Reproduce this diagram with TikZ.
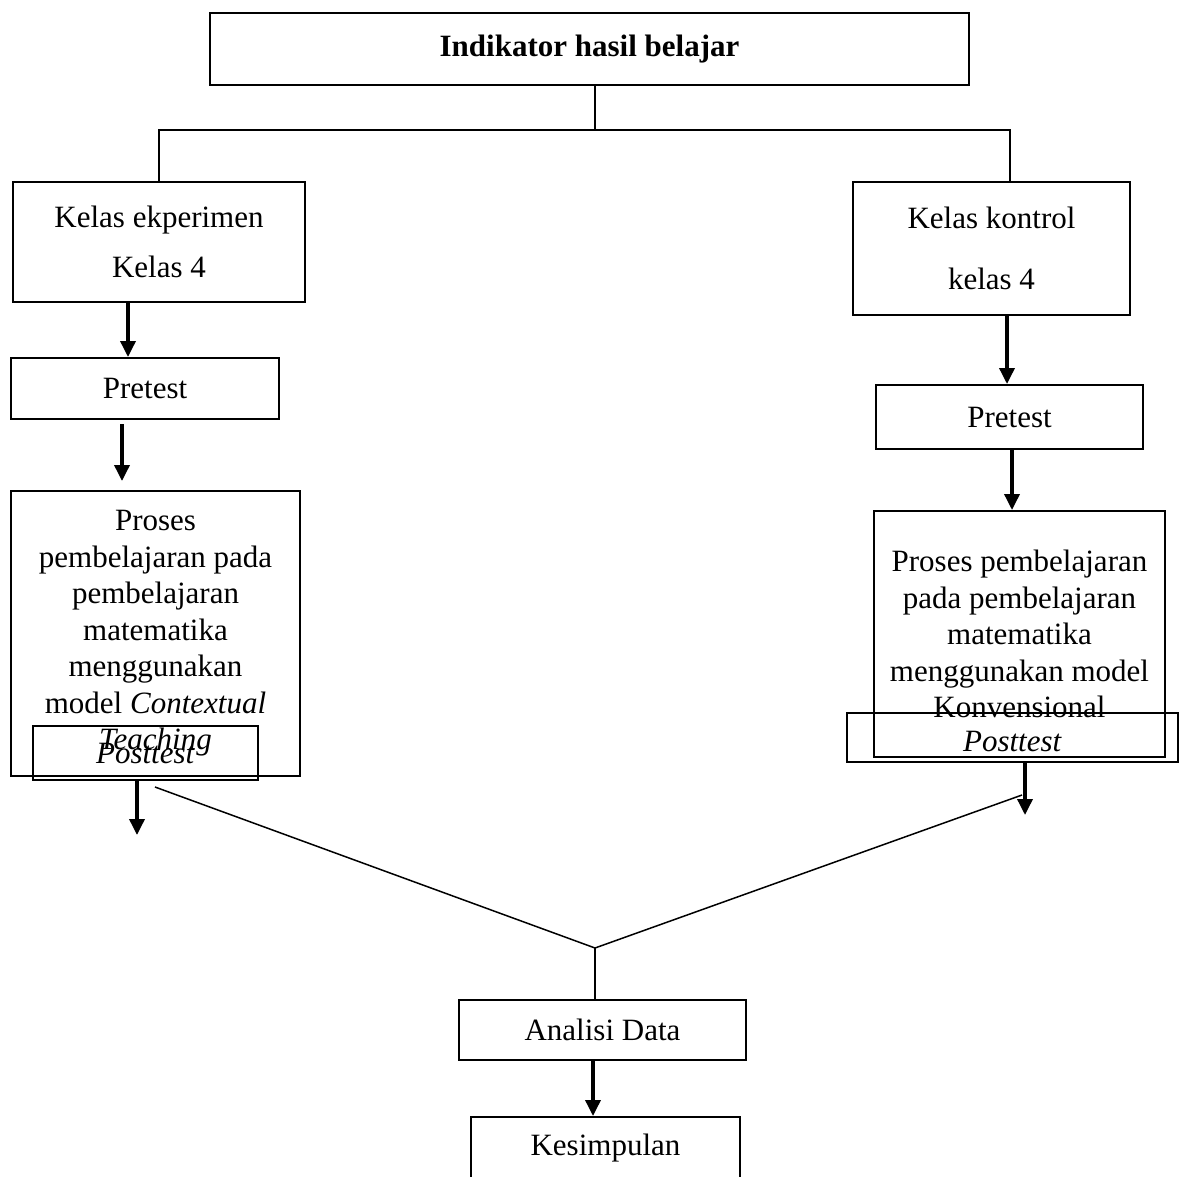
\documentclass[tikz,border=0pt]{standalone}
\usepackage{fontspec}
\setmainfont{Liberation Serif}
\usetikzlibrary{arrows.meta}

\begin{document}
\begin{tikzpicture}[x=1pt,y=-1pt,
  box/.style={draw,line width=2pt,inner sep=0pt,align=center,font=\fontsize{31}{36.5}\selectfont},
  line/.style={line width=1.5pt},
  arr/.style={line width=3.5pt,-{Triangle[width=15pt,length=16pt]}}]
\useasboundingbox (0,0) rectangle (1181,1176);

% boxes
\node[box,minimum width=759pt,minimum height=72pt] (title) at (589.5,49) {\textbf{Indikator hasil belajar}};

\node[box,minimum width=292pt,minimum height=120pt] (eks) at (159,242) {Kelas ekperimen\\[14pt]Kelas 4};
\node[box,minimum width=277pt,minimum height=133pt] (kon) at (991.5,248.5) {Kelas kontrol\\[24pt]kelas 4};

\node[box,minimum width=268pt,minimum height=61pt] (preE) at (145,388.5) {Pretest};
\node[box,minimum width=267pt,minimum height=64pt] (preK) at (1009.5,417) {Pretest};

\node[box,minimum width=289pt,minimum height=285pt] (prosE) at (155.5,633.5)
  {Proses\\pembelajaran pada\\pembelajaran\\matematika\\menggunakan\\model \textit{Contextual}\\\textit{Teaching}};
\node[box,minimum width=291pt,minimum height=246pt] (prosK) at (1019.5,634)
  {Proses pembelajaran\\pada pembelajaran\\matematika\\menggunakan model\\Konvensional};

\node[box,minimum width=225pt,minimum height=54pt] (postE) at (145.5,753) {\textit{Posttest}};
\node[box,minimum width=331pt,minimum height=49pt,text depth=0pt] (postK) at (1012.5,737.5) {\raisebox{-7pt}{\textit{Posttest}}};

\node[box,minimum width=287pt,minimum height=60pt] (ana) at (602.5,1030) {Analisi Data};
\node[box,minimum width=269pt,minimum height=63pt] (kes) at (605.5,1148.5) {Kesimpulan};

% guide points
\coordinate (split) at (595,130);
\coordinate (jn) at (595,948);
\coordinate (gE1) at (128,0);
\coordinate (gE2) at (122,0);
\coordinate (gK1) at (1007,0);
\coordinate (gK2) at (1012,0);
\coordinate (endE) at (137,835);
\coordinate (endK) at (1025,815);
\coordinate (gA) at (593,0);

% branches
\draw[line] (title.south -| split) -- (split);
\draw[line] (split) -| (eks.north);
\draw[line] (split) -| (kon.north -| 1010,0);

% left column
\draw[arr] (eks.south -| gE1) -- (preE.north -| gE1);
\draw[arr] ([yshift=-4pt]preE.south -| gE2) -- ([yshift=9pt]prosE.north -| gE2);
\draw[arr] (postE.south -| endE) -- (endE);

% right column
\draw[arr] (kon.south -| gK1) -- (preK.north -| gK1);
\draw[arr] (preK.south -| gK2) -- (prosK.north -| gK2);
\draw[arr] (postK.south -| endK) -- (endK);

% joining
\draw[line] (155,787) -- (jn) -- (1022,795);
\draw[line] (jn) -- (ana.north -| jn);
\draw[arr] (ana.south -| gA) -- (kes.north -| gA);
\end{tikzpicture}
\end{document}
